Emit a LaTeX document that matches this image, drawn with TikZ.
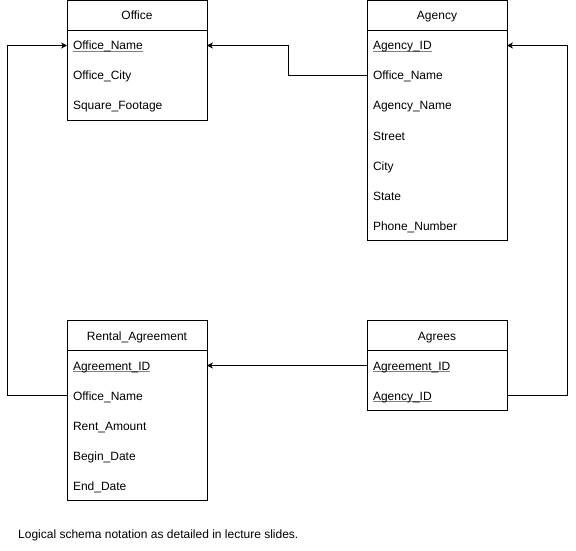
\documentclass[tikz,border=0pt]{standalone}
\usepackage{fontspec}
\setmainfont{Liberation Sans}
\usetikzlibrary{positioning, arrows.meta}
\newcommand{\pk}[1]{\sbox0{#1}\rlap{\color{gray}\rule[-2pt]{\wd0}{0.7pt}}\usebox0}

\begin{document}
\begin{tikzpicture}[x=1pt, y=-1pt, font=\fontsize{12}{14}\selectfont]
	\tikzset{head/.style={rectangle, draw, minimum width=140pt, minimum height=30pt, inner sep=0pt, outer sep=0pt, text height=10.5pt, text depth=1.5pt}}
	\tikzset{field/.style={rectangle, minimum width=140pt, minimum height=30pt, text width=128pt, inner xsep=6pt, inner ysep=0pt, outer sep=0pt, text height=10.5pt, text depth=1.5pt, align=left}}
	\tikzset{arr/.style={-{Stealth[length=6pt, width=6pt]}, line width=0.8pt}}
	\useasboundingbox (0,0) rectangle (576,551);

	% Office
	\node[head] at (137,15.5) (office) {Office};
	\node[field, below=0pt of office] (officeName) {\pk{Office\_Name}};
	\node[field, below=0pt of officeName] (officeCity) {Office\_City};
	\node[field, below=0pt of officeCity] (officeSquare) {Square\_Footage};
	\draw (office.south west) rectangle (officeSquare.south east);

	% Agency
	\node[head] at (437,15.5) (agency) {Agency};
	\node[field, below=0pt of agency] (agencyID) {\pk{Agency\_ID}};
	\node[field, below=0pt of agencyID] (agencyOffice) {Office\_Name};
	\node[field, below=0pt of agencyOffice] (agencyName) {Agency\_Name};
	\node[field, below=0pt of agencyName] (agencyStreet) {Street};
	\node[field, below=0pt of agencyStreet] (agencyCity) {City};
	\node[field, below=0pt of agencyCity] (agencyState) {State};
	\node[field, below=0pt of agencyState] (agencyPhone) {Phone\_Number};
	\draw (agency.south west) rectangle (agencyPhone.south east);

	% Rental_Agreement
	\node[head] at (137,335.5) (rental) {Rental\_Agreement};
	\node[field, below=0pt of rental] (rentalID) {\pk{Agreement\_ID}};
	\node[field, below=0pt of rentalID] (rentalOffice) {Office\_Name};
	\node[field, below=0pt of rentalOffice] (rentalAmount) {Rent\_Amount};
	\node[field, below=0pt of rentalAmount] (rentalBegin) {Begin\_Date};
	\node[field, below=0pt of rentalBegin] (rentalEnd) {End\_Date};
	\draw (rental.south west) rectangle (rentalEnd.south east);

	% Agrees
	\node[head] at (437,335.5) (agrees) {Agrees};
	\node[field, below=0pt of agrees] (agreesID) {\pk{Agreement\_ID}};
	\node[field, below=0pt of agreesID] (agreesAgency) {\pk{Agency\_ID}};
	\draw (agrees.south west) rectangle (agreesAgency.south east);

	% foreign keys
	\draw[arr] (agencyOffice.west) -- ++(-79,0) |- (officeName.east);
	\draw[arr] (rentalOffice.west) -- ++(-60,0) |- (officeName.west);
	\draw[arr] (agreesID.west) -- (rentalID.east);
	\draw[arr] (agreesAgency.east) -- ++(60,0) |- (agencyID.east);

	\node[anchor=west, inner sep=0pt] at (18,535) (note) {Logical schema notation as detailed in lecture slides.};
\end{tikzpicture}
\end{document}
